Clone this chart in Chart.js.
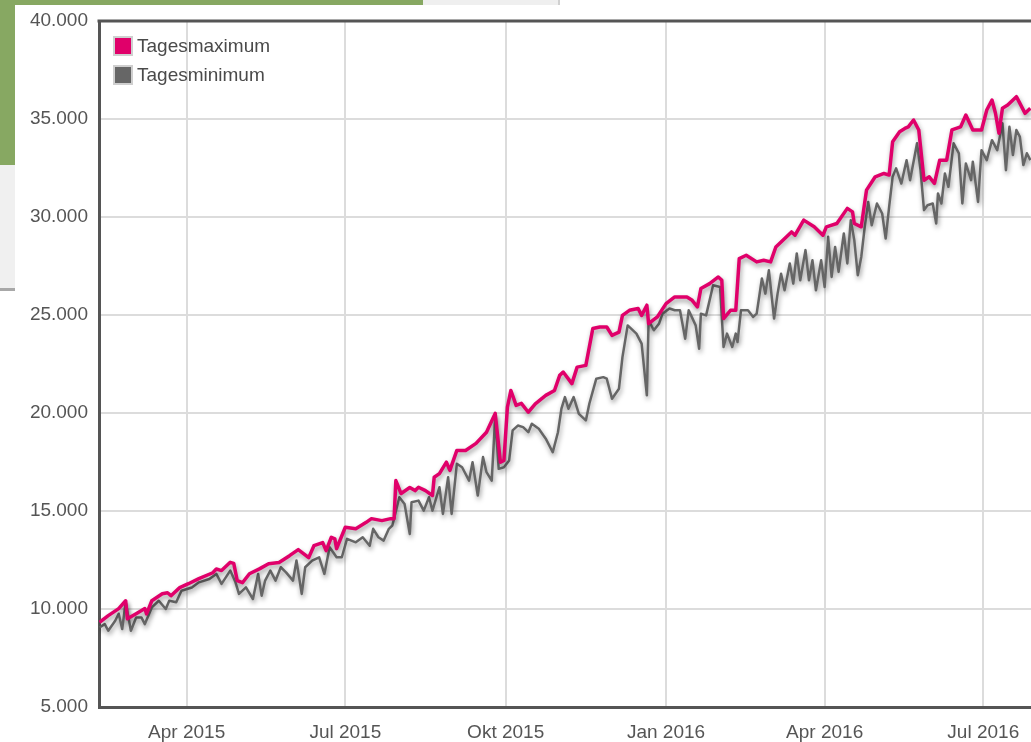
<!DOCTYPE html>
<html>
<head>
<meta charset="utf-8">
<script src="https://cdn.jsdelivr.net/npm/chart.js@4"></script>
<style>
  html, body { margin: 0; padding: 0; width: 1031px; height: 742px; overflow: hidden; background: #fff;
               font-family: 'Liberation Sans', Arial, sans-serif; }
  .green     { position: absolute; left: 0; top: 0; width: 423px; height: 165px; background: #87a862; }
  .greyPanel { position: absolute; left: 0; top: 165px; width: 15px; height: 123px; background: #f0f0f0;
               border-bottom: 3px solid #a8a8a8; }
  .topStrip  { position: absolute; left: 423px; top: 0; width: 135px; height: 5px; background: #efefef;
               border-right: 2px solid #d0d0d0; }
  #wrap      { position: absolute; left: 15px; top: 5px; width: 1120px; height: 737px; background: #fff; }
  #legend    { position: absolute; left: 98px; top: 26px; }
  .leg-row   { display: flex; align-items: center; height: 29px; }
  .leg-box   { width: 16px; height: 16px; border: 2px solid #cfcfcf; margin-right: 4px; }
  .leg-text  { font-size: 19px; color: #4a4a4a; }
</style>
</head>
<body>
<div class="green"></div>
<div class="greyPanel"></div>
<div class="topStrip"></div>
<div id="wrap">
  <canvas id="chart" width="1120" height="737"></canvas>
  <div id="legend"></div>
</div>

<script>
// ─────────────────────────────────────────
//  DATA  (x = day number counted from 1 Jan 2015)
// ─────────────────────────────────────────
const seriesNames  = ['Tagesmaximum', 'Tagesminimum'];
const seriesColors = ['#e0006a', '#666666'];

const tickDays   = [90, 181, 273, 365, 456, 547];
const tickLabels = ['Apr 2015', 'Jul 2015', 'Okt 2015', 'Jan 2016', 'Apr 2016', 'Jul 2016'];

const maxDays = [40,45,51,55,56,61,66,67,70,76,79,81,86,91,97,105,107,110,115,117,119,122,126,132,137,143,149,154,157,160,
  163,168,170,173,175,176,181,187,193,196,202,207,209,210,213,218,221,223,227,231,232,235,239,241,245,250,256,262,267,270,
  272,274,276,279,282,286,290,296,301,304,306,311,314,319,323,327,331,334,338,340,344,349,351,354,355,360,365,370,377,380,
  383,385,390,395,397,398,402,405,407,411,417,421,425,428,434,437,439,444,450,455,457,463,469,472,473,477,480,485,490,493,
  495,499,502,504,507,510,513,516,519,522,526,529,534,537,541,546,549,552,554,556,558,561,566,571,574];
const maxVals = [9320,9660,10020,10420,9500,9760,10020,9750,10420,10780,10830,10680,11090,11290,11550,11850,12040,11960,12380,12330,
  11450,11340,11800,12060,12310,12370,12720,13030,12830,12620,13230,13390,12980,13660,13580,13080,14170,14100,14420,14610,
  14510,14610,14610,16550,15890,16200,16040,16210,16040,15790,16720,16910,17490,17070,18090,18090,18450,19020,19980,17490,
  17580,20300,21150,20390,20490,20040,20470,20900,21150,21920,22090,21500,22340,22430,24310,24390,24390,23960,24130,24980,
  25240,25330,24980,25500,24560,24900,25580,25920,25920,25750,25410,26350,26600,26940,26770,24820,25240,25240,27880,28050,
  27710,27790,27710,28470,28980,29240,29070,29840,29500,29070,29500,29670,30440,30260,29670,29500,31370,32050,32220,32140,
  33840,34350,34520,34600,34950,34440,31880,32050,31710,32900,32900,34440,34600,35200,34440,34440,35460,35970,35290,34270,
  35550,35710,36140,35290,35550];

const minDays = [40,43,45,49,51,53,55,58,61,64,66,70,74,78,80,84,87,93,97,103,107,110,115,118,120,124,128,131,133,135,
  138,141,144,147,151,153,156,158,162,166,169,172,176,179,182,187,191,195,197,200,203,206,208,212,215,218,219,223,226,229,
  231,235,237,240,242,245,248,252,254,257,260,262,265,267,269,272,275,277,280,283,286,288,292,296,300,303,305,307,309,312,
  315,319,321,325,329,331,334,338,340,343,348,351,354,355,358,361,363,367,370,373,376,378,382,384,385,388,392,396,398,400,
  403,405,406,408,412,415,417,420,422,424,427,429,431,433,436,438,440,442,445,447,449,451,454,456,458,460,462,464,467,469,
  471,473,475,477,479,481,483,486,489,491,493,495,497,500,503,505,507,509,511,513,515,518,520,521,523,525,527,530,533,535,
  537,540,541,544,546,549,552,555,558,560,562,564,566,568,570,572,574];
const minVals = [9060,9230,8890,9400,9760,8980,10340,8890,9570,9570,9230,10080,10420,10000,10420,10340,10930,11100,11360,11530,
  11790,11280,11960,11360,10770,11100,10510,11790,10680,11450,11960,11450,12130,11870,11450,12470,10770,12130,12470,12640,
  11790,13150,12640,12640,13580,13400,13660,13230,14090,13660,13490,14090,14260,15700,15360,13830,15450,15530,15020,15700,
  15020,16210,14850,16720,14850,17410,17230,16550,17490,15790,17750,16980,16550,19790,17150,17230,17580,19110,19360,19280,
  19020,19450,19200,18690,18000,19020,20220,20810,20220,20810,19960,19620,20470,21750,21830,21750,20730,21240,22850,24470,
  24050,23540,20900,24730,24220,24560,25070,25330,25240,25240,23790,25240,24470,23280,25070,24980,26520,26430,23370,24050,
  23370,24050,23620,25240,25240,24900,25070,26860,26090,27280,24820,26090,27110,26260,27630,26600,28140,26770,28310,26770,
  27790,26260,27790,26430,28990,26940,28470,27200,29160,27630,29840,28820,27030,27960,29500,30770,29580,30690,30180,28900,
  30520,32050,32480,31710,32900,31880,32820,33760,32390,30350,30600,30690,29670,31200,30690,32220,31540,33760,33250,30690,
  32730,31880,32820,30770,33410,32900,33920,33410,34780,32390,34600,33160,34440,34090,32650,33250,32900];

// ─────────────────────────────────────────
//  AXIS GEOMETRY
// ─────────────────────────────────────────
const X_MIN      = 39.7;     // left edge of plot (≈ 9 Feb 2015)
const PX_PER_DAY = 1.7431;
const Y_AXIS_W   = 84;
const X_AXIS_H   = 35;
const CANVAS_W   = 1120;
const X_MAX      = X_MIN + (CANVAS_W - Y_AXIS_W) / PX_PER_DAY;

const FONT = { family: "'Liberation Sans', Arial, sans-serif", size: 19 };

function fmtThousands(v) {
  return String(v).replace(/\B(?=(\d{3})+(?!\d))/g, '.');
}

// ── shadow under the lines ─────────────────────────────────
const lineShadow = {
  id: 'lineShadow',
  beforeDatasetDraw(chart) {
    const ctx = chart.ctx;
    ctx.save();
    ctx.shadowColor   = 'rgba(0,0,0,0.4)';
    ctx.shadowBlur    = 5;
    ctx.shadowOffsetX = 1;
    ctx.shadowOffsetY = 3;
  },
  afterDatasetDraw(chart) { chart.ctx.restore(); },
};

// ── top frame line of the plot ─────────────────────────────
const topFrame = {
  id: 'topFrame',
  afterDraw(chart) {
    const { ctx, chartArea } = chart;
    ctx.save();
    ctx.strokeStyle = '#555';
    ctx.lineWidth   = 3;
    ctx.beginPath();
    ctx.moveTo(chartArea.left - 1.5, chartArea.top);
    ctx.lineTo(chartArea.right, chartArea.top);
    ctx.stroke();
    ctx.restore();
  },
};

// ─────────────────────────────────────────
//  CHART
// ─────────────────────────────────────────
const toPoints = (days, vals) => days.map((d, i) => ({ x: d, y: vals[i] }));

new Chart(document.getElementById('chart'), {
  type: 'line',
  data: {
    datasets: [
      {
        label: seriesNames[0],
        data: toPoints(maxDays, maxVals),
        borderColor: seriesColors[0],
        borderWidth: 3.5,
        pointRadius: 0,
        tension: 0,
        borderJoinStyle: 'round',
      },
      {
        label: seriesNames[1],
        data: toPoints(minDays, minVals),
        borderColor: seriesColors[1],
        borderWidth: 2.5,
        pointRadius: 0,
        tension: 0,
        borderJoinStyle: 'round',
      },
    ],
  },
  options: {
    responsive: false,
    animation: false,
    layout: { padding: { top: 16, right: 0, left: 0, bottom: 0 } },
    plugins: { legend: { display: false }, tooltip: { enabled: false } },
    scales: {
      x: {
        type: 'linear',
        min: X_MIN,
        max: X_MAX,
        afterFit: s => { s.height = X_AXIS_H; s.paddingLeft = 0; s.paddingRight = 0; },
        afterBuildTicks: s => { s.ticks = tickDays.map(v => ({ value: v })); },
        grid:   { color: '#dcdcdc', lineWidth: 2, drawTicks: false },
        border: { color: '#555', width: 3 },
        ticks:  { color: '#555', font: FONT, padding: 14, autoSkip: false, maxRotation: 0,
                  callback: v => tickLabels[tickDays.indexOf(v)] },
      },
      y: {
        min: 5000,
        max: 40000,
        afterFit: s => { s.width = Y_AXIS_W; s.paddingTop = 0; s.paddingBottom = 0; },
        grid:   { color: '#dcdcdc', lineWidth: 2, drawTicks: false },
        border: { color: '#555', width: 3 },
        ticks:  { color: '#555', font: FONT, padding: 11, stepSize: 5000,
                  callback: v => fmtThousands(v) },
      },
    },
  },
  plugins: [lineShadow, topFrame],
});

// ─────────────────────────────────────────
//  LEGEND (inside plot, top-left)
// ─────────────────────────────────────────
const legend = document.getElementById('legend');
seriesNames.forEach((name, i) => {
  const row = document.createElement('div');
  row.className = 'leg-row';
  row.innerHTML = `<span class="leg-box" style="background:${seriesColors[i]}"></span>` +
                  `<span class="leg-text">${name}</span>`;
  legend.appendChild(row);
});
</script>
</body>
</html>
